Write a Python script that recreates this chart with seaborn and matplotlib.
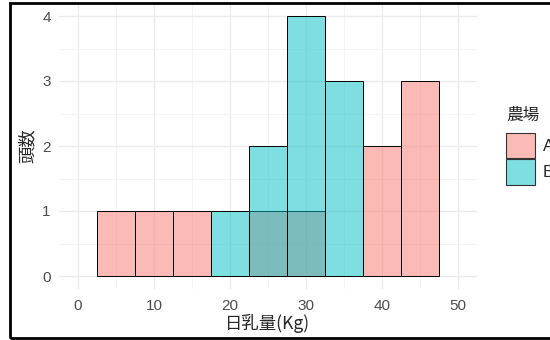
import numpy as np
import pandas as pd
import matplotlib
matplotlib.use("Agg")
import matplotlib.pyplot as plt
from matplotlib.patches import Patch, Rectangle
from matplotlib.ticker import MultipleLocator
import seaborn as sns

# ---- data ----
bin_centers = [5, 10, 15, 20, 25, 30, 35, 40, 45]
counts_A = [1, 1, 1, 0, 1, 1, 0, 2, 3]
counts_B = [0, 0, 0, 1, 2, 4, 3, 0, 0]
farms = ["A", "B"]
x_ticks = [0, 10, 20, 30, 40, 50]
y_ticks = [0, 1, 2, 3, 4]

rows = []
for f, cnts in zip(farms, [counts_A, counts_B]):
    for c, n in zip(bin_centers, cnts):
        if n > 0:
            rows.append({"milk": c, "count": n, "farm": f})
df = pd.DataFrame(rows)

sns.set_theme(style="whitegrid")
plt.rcParams["font.family"] = ["Liberation Sans", "Noto Sans CJK JP", "DejaVu Sans"]
cjk = ["Noto Sans CJK JP", "DejaVu Sans"]

palette = {"A": "#F8766D", "B": "#00BFC4"}

fig = plt.figure(figsize=(5.5, 3.4), dpi=100)
ax = fig.add_axes([59 / 550, 1 - 289 / 340, (477 - 59) / 550, (289 - 3) / 340])

sns.histplot(data=df, x="milk", weights="count", hue="farm", hue_order=farms,
             binwidth=5, binrange=(2.5, 47.5), multiple="layer",
             palette=palette, alpha=0.5, edgecolor="black", linewidth=0.7,
             ax=ax, legend=False)

b_rgb = np.array(matplotlib.colors.to_rgb(palette["B"]))
for p in ax.patches:
    fc = p.get_facecolor()
    p.set_alpha(None)
    p.set_facecolor((fc[0], fc[1], fc[2], 0.5))
    p.set_edgecolor((0, 0, 0, 1))
    p.set_linewidth(0.7)
    is_b = np.allclose(np.array(fc[:3]), b_rgb, atol=0.02)
    p.set_zorder(3 if is_b else 2)
    if p.get_height() == 0:
        p.set_visible(False)

ax.set_xlim(-2.5, 52.5)
ax.set_ylim(-0.2, 4.2)
ax.set_xticks(x_ticks)
ax.set_yticks(y_ticks)
ax.xaxis.set_minor_locator(MultipleLocator(5))
ax.yaxis.set_minor_locator(MultipleLocator(0.5))
ax.grid(which="major", color="#EBEBEB", linewidth=1.0)
ax.grid(which="minor", color="#F3F3F3", linewidth=0.6)
ax.set_axisbelow(True)
for s in ax.spines.values():
    s.set_visible(False)
ax.tick_params(axis="both", which="both", length=0, labelsize=11, labelcolor="#4D4D4D")
ax.tick_params(axis="x", pad=7)
ax.tick_params(axis="y", pad=6)

ax.set_xlabel("日乳量(Kg)", fontsize=12.5, family=cjk, labelpad=1)
ax.set_ylabel("頭数", fontsize=12.5, family=cjk, labelpad=4)

handles = [Patch(facecolor=(*matplotlib.colors.to_rgb(palette[f]), 0.5),
                 edgecolor="#333333", linewidth=0.8) for f in farms]
leg = fig.legend(handles, farms, title="農場", loc="upper left",
                 bbox_to_anchor=(503 / 550, 1 - 104 / 340), frameon=False,
                 fontsize=12, title_fontsize=12, handlelength=1.7,
                 handleheight=2.0, handletextpad=0.5, labelspacing=0.05,
                 borderaxespad=0, borderpad=0.2)
leg.get_title().set_family(cjk)
leg._legend_box.align = "left"
leg._legend_box.sep = 6

fig.patches.append(Rectangle((10 / 550, 2 / 340), 1.2, 1 - 5 / 340,
                             transform=fig.transFigure, fill=False,
                             edgecolor="black", linewidth=2, zorder=10))

fig.savefig("out.png", dpi=100)
